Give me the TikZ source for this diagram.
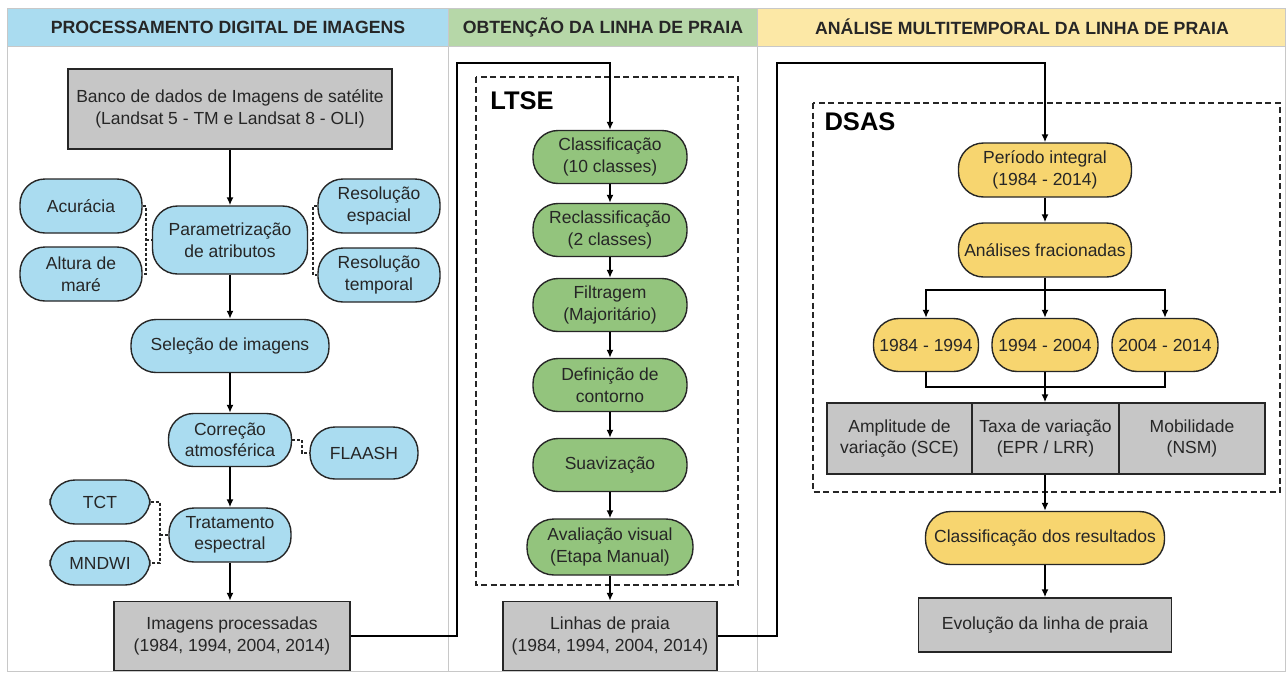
\documentclass[tikz,border=0pt]{standalone}
\usepackage{fontspec}
\setmainfont{Liberation Sans}
\usetikzlibrary{arrows.meta,calc}
\definecolor{hblue}{HTML}{AADCF0}
\definecolor{nblue}{HTML}{AADCF0}
\definecolor{hgreen}{HTML}{B6D7A8}
\definecolor{ngreen}{HTML}{93C47D}
\definecolor{hyellow}{HTML}{FCE8A6}
\definecolor{nyellow}{HTML}{F7D56F}
\definecolor{boxgrey}{HTML}{C6C6C6}
\definecolor{framegrey}{HTML}{C8C8C8}
\definecolor{ink}{HTML}{262626}
\begin{document}
\begin{tikzpicture}[x=1pt,y=-1pt,
  every node/.style={font=\fontsize{17.5}{21.5}\selectfont, text=ink, align=center, inner sep=0pt},
  pill/.style={draw=ink, line width=1.4pt, rectangle, rounded corners=#1},
  pill/.default=25pt,
  bpill/.style={pill, fill=nblue},
  gpill/.style={pill, fill=ngreen, minimum width=154pt, minimum height=53pt},
  ypill/.style={pill, fill=nyellow},
  gbox/.style={draw=ink, line width=1.4pt, fill=boxgrey, rectangle},
  arr/.style={line width=1.6pt, draw=black, -{Latex[length=8pt,width=7pt]}},
  conn/.style={line width=1.6pt, draw=black},
  dotconn/.style={line width=1.3pt, draw=ink, dash pattern=on 3pt off 2pt},
  groupbox/.style={line width=2pt, draw=black!85, dash pattern=on 6pt off 3.5pt},
  hdr/.style={font=\fontsize{17.7}{21}\selectfont\bfseries, text=ink},
  grp/.style={font=\fontsize{25.5}{28}\selectfont\bfseries, text=black}
]
\useasboundingbox (0,0) rectangle (1288,675);
\fill[white] (0,0) rectangle (1288,675);

% headers and frame
\filldraw[fill=hblue, draw=framegrey, line width=1pt] (7,8) rectangle (448,46);
\filldraw[fill=hgreen, draw=framegrey, line width=1pt] (448,8) rectangle (757,46);
\filldraw[fill=hyellow, draw=framegrey, line width=1pt] (757,8) rectangle (1285,46);
\draw[framegrey, line width=1pt] (7,8) rectangle (1285,671);
\draw[framegrey, line width=1pt] (448,46) -- (448,671);
\draw[framegrey, line width=1pt] (757,46) -- (757,671);
\node[hdr] (h1) at (228,27) {PROCESSAMENTO DIGITAL DE IMAGENS};
\node[hdr] (h2) at (603,27) {OBTENÇÃO DA LINHA DE PRAIA};
\node[hdr] (h3) at (1022,27) {ANÁLISE MULTITEMPORAL DA LINHA DE PRAIA};

% group boxes
\draw[groupbox] (476,77) rectangle (738,585);
\node[grp] (ltse) at (522,101) {LTSE};
\draw[groupbox] (813,103) rectangle (1280,492);
\node[grp] (dsas) at (860,122) {DSAS};

% column 1
\node[gbox, minimum width=324pt, minimum height=80pt] (banco) at (230,109) {Banco de dados de Imagens de satélite\\(Landsat 5 - TM e Landsat 8 - OLI)};
\node[bpill=33pt, minimum width=155pt, minimum height=68pt] (param) at (230,240) {Parametrização\\de atributos};
\node[bpill=26pt, minimum width=122pt, minimum height=54pt] (acur) at (81,206) {Acurácia};
\node[bpill=26pt, minimum width=122pt, minimum height=54pt] (altura) at (81,274) {Altura de\\maré};
\node[bpill=26pt, minimum width=122pt, minimum height=54pt] (resesp) at (379,206) {Resolução\\espacial};
\node[bpill=26pt, minimum width=122pt, minimum height=54pt] (restemp) at (379,275) {Resolução\\temporal};
\node[bpill=26pt, minimum width=198pt, minimum height=53pt] (selecao) at (230,346) {Seleção de imagens};
\node[bpill=26pt, minimum width=123pt, minimum height=53pt] (correcao) at (230,440) {Correção\\atmosférica};
\node[bpill=25pt, minimum width=108pt, minimum height=52pt] (flaash) at (364,453) {FLAASH};
\node[bpill=26pt, minimum width=122pt, minimum height=54pt] (tratamento) at (230,535) {Tratamento\\espectral};
\node[bpill=21pt, minimum width=100pt, minimum height=44pt] (tct) at (100,502) {TCT};
\node[bpill=21pt, minimum width=100pt, minimum height=44pt] (mndwi) at (100,563) {MNDWI};
\node[gbox, minimum width=236pt, minimum height=69pt] (imgproc) at (232,636) {Imagens processadas\\(1984, 1994, 2004, 2014)};

\draw[arr] (banco) -- (param);
\draw[arr] (param) -- (selecao);
\draw[arr] (selecao) -- (correcao);
\draw[arr] (correcao) -- (tratamento);
\draw[arr] (tratamento.south) -- (imgproc.north -| tratamento.south);

\coordinate (lb) at (146,240);
\draw[dotconn] (acur.east) -| (lb) |- (altura.east);
\draw[dotconn] (lb) -- (param.west);
\coordinate (rb) at (313,240);
\draw[dotconn] (resesp.west) -| (rb) |- (restemp.west);
\draw[dotconn] (rb) -- (param.east);
\coordinate (fb) at (302,446);
\draw[dotconn] (correcao.east) -| (fb) |- (flaash.west);
\coordinate (tb) at (160,535);
\draw[dotconn] (tct.east) -| (tb) |- (mndwi.east);
\draw[dotconn] (tb) -- (tratamento.west);

% column 2
\node[gpill] (classif) at (610,157) {Classificação\\(10 classes)};
\node[gpill] (reclass) at (610,230) {Reclassificação\\(2 classes)};
\node[gpill] (filtr) at (610,305) {Filtragem\\(Majoritário)};
\node[gpill] (defin) at (610,385) {Definição de\\contorno};
\node[gpill] (suav) at (610,465) {Suavização};
\node[pill=27pt, fill=ngreen, minimum width=166pt, minimum height=56pt] (aval) at (610,547) {Avaliação visual\\(Etapa Manual)};
\node[gbox, minimum width=214pt, minimum height=69pt] (linhas) at (610,636) {Linhas de praia\\(1984, 1994, 2004, 2014)};

\draw[arr] (classif) -- (reclass);
\draw[arr] (reclass) -- (filtr);
\draw[arr] (filtr) -- (defin);
\draw[arr] (defin) -- (suav);
\draw[arr] (suav) -- (aval);
\draw[arr] (aval) -- (linhas);

\coordinate (c1a) at (457,636);
\coordinate (c1b) at (457,63);
\draw[arr] (imgproc.east) -- (c1a) -- (c1b) -| (classif.north);

% column 3
\node[ypill=26pt, minimum width=173pt, minimum height=54pt] (periodo) at (1045,170) {Período integral\\(1984 - 2014)};
\node[ypill=26pt, minimum width=173pt, minimum height=54pt] (analises) at (1045,250) {Análises fracionadas};
\node[ypill=25pt, minimum width=105pt, minimum height=53pt] (p1) at (926,345) {1984 - 1994};
\node[ypill=25pt, minimum width=106pt, minimum height=53pt] (p2) at (1045,345) {1994 - 2004};
\node[ypill=25pt, minimum width=106pt, minimum height=53pt] (p3) at (1165,345) {2004 - 2014};
\node[gbox, minimum width=145pt, minimum height=71pt] (t1) at (899.5,438.5) {Amplitude de\\variação (SCE)};
\node[gbox, minimum width=146pt, minimum height=71pt] (t3) at (1192,438.5) {Mobilidade\\(NSM)};
\node[gbox, minimum width=147pt, minimum height=71pt] (t2) at (1045.5,438.5) {Taxa de variação\\(EPR / LRR)};
\node[ypill=26pt, minimum width=239pt, minimum height=53pt] (classres) at (1045,538) {Classificação dos resultados};
\node[gbox, minimum width=253pt, minimum height=54pt] (evol) at (1045,625) {Evolução da linha de praia};

\draw[arr] (periodo) -- (analises);
\coordinate (br) at (1045,290);
\draw[arr] (analises) -- (p2);
\draw[arr] (br) -| (p1.north);
\draw[arr] (br) -| (p3.north);
\coordinate (mg) at (1045,387);
\draw[conn] (p1.south) |- (mg) -| (p3.south);
\draw[arr] (p2.south) -- (t2.north -| p2.south);
\draw[arr] (t2.south -| classres.north) -- (classres.north);
\draw[arr] (classres) -- (evol);

\coordinate (c2a) at (777,636);
\coordinate (c2b) at (777,63);
\draw[arr] (linhas.east) -- (c2a) -- (c2b) -| (periodo.north);
\end{tikzpicture}
\end{document}
